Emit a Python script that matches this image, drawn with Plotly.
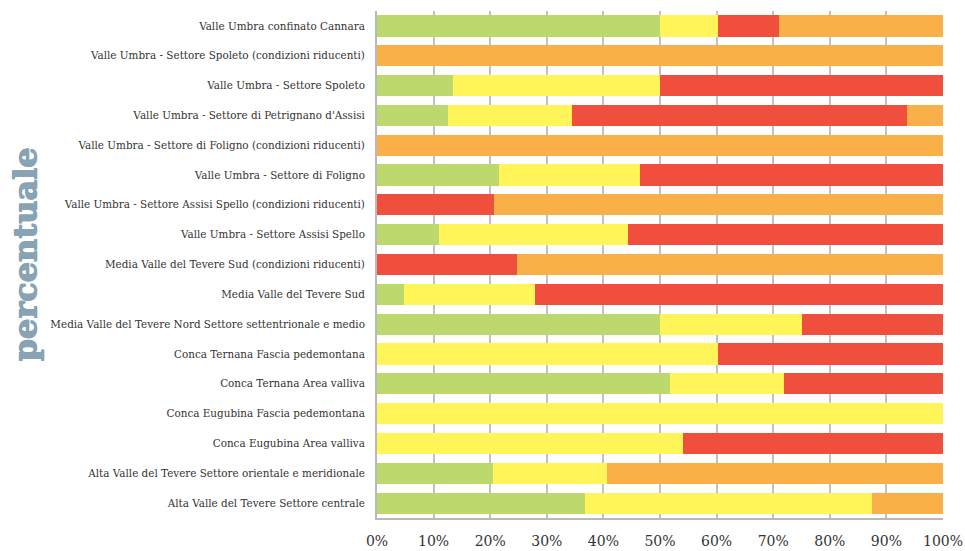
import plotly.graph_objects as go

categories = [
    "Valle Umbra confinato Cannara",
    "Valle Umbra - Settore Spoleto (condizioni riducenti)",
    "Valle Umbra - Settore Spoleto",
    "Valle Umbra - Settore di Petrignano d'Assisi",
    "Valle Umbra - Settore di Foligno (condizioni riducenti)",
    "Valle Umbra - Settore di Foligno",
    "Valle Umbra - Settore Assisi Spello (condizioni riducenti)",
    "Valle Umbra - Settore Assisi Spello",
    "Media Valle del Tevere Sud (condizioni riducenti)",
    "Media Valle del Tevere Sud",
    "Media Valle del Tevere Nord Settore settentrionale e medio",
    "Conca Ternana Fascia pedemontana",
    "Conca Ternana Area valliva",
    "Conca Eugubina Fascia pedemontana",
    "Conca Eugubina Area valliva",
    "Alta Valle del Tevere Settore orientale e meridionale",
    "Alta Valle del Tevere Settore centrale",
]

green  = [50.0, 0, 13.4, 12.5, 0, 21.6, 0, 11.0, 0, 4.7, 50.0, 0, 51.8, 0, 0, 20.5, 36.7]
yellow = [10.2, 0, 36.6, 22.0, 0, 24.9, 0, 33.3, 0, 23.2, 25.0, 60.2, 20.1, 100, 54.1, 20.1, 50.8]
red    = [10.8, 0, 50.0, 59.1, 0, 53.5, 20.7, 55.7, 24.7, 72.1, 25.0, 39.8, 28.1, 0, 45.9, 0, 0]
orange = [29.0, 100, 0, 6.4, 100, 0, 79.3, 0, 75.3, 0, 0, 0, 0, 0, 0, 59.4, 12.5]

x_ticks = [0, 10, 20, 30, 40, 50, 60, 70, 80, 90, 100]
x_ticktext = [f"{v}%" for v in x_ticks]

series = [
    ("verde", green, "#bdd86c"),
    ("giallo", yellow, "#fff458"),
    ("rosso", red, "#f04f3d"),
    ("arancio", orange, "#fab048"),
]

fig = go.Figure()
for name, vals, col in series:
    fig.add_trace(go.Bar(
        y=categories, x=vals, name=name, orientation="h",
        marker=dict(color=col, line=dict(width=0)),
        hoverinfo="x+y",
    ))

title_col = "#88a3b3"

fig.update_layout(
    barmode="stack",
    bargap=0.29,
    width=965, height=551,
    margin=dict(l=377, r=22, t=11, b=33, autoexpand=False),
    plot_bgcolor="white",
    paper_bgcolor="white",
    showlegend=False,
    font=dict(family="DejaVu Serif", color="#333333"),
)
fig.update_xaxes(
    range=[0, 100],
    tickvals=x_ticks, ticktext=x_ticktext,
    tickfont=dict(size=14, family="DejaVu Serif", color="#333333"),
    showgrid=True, gridcolor="#c2c2c6", gridwidth=2,
    zeroline=False,
    showline=True, linecolor="#b8b8bc", linewidth=2,
    ticks="", ticklabelstandoff=9, automargin=False,
)
fig.update_yaxes(
    categoryorder="array", categoryarray=categories,
    autorange="reversed",
    tickfont=dict(size=10.4, family="DejaVu Serif", color="#333333"),
    showline=True, linecolor="#b8b8bc", linewidth=2,
    showgrid=False, ticks="", ticklabelstandoff=8, automargin=False,
)
fig.add_annotation(
    text="<b>percentuale</b>", textangle=-90,
    xref="paper", yref="paper", x=-0.622, y=0.519,
    xanchor="center", yanchor="middle",
    showarrow=False,
    font=dict(family="DejaVu Serif", size=32, color=title_col, weight="bold",
              shadow=f"1px 0px 0px {title_col}, 0px 1px 0px {title_col}, 1px 1px 0px {title_col}"),
)

fig.write_html("out.html", config={"displayModeBar": False},
               post_script="document.body.style.margin='0px';")
